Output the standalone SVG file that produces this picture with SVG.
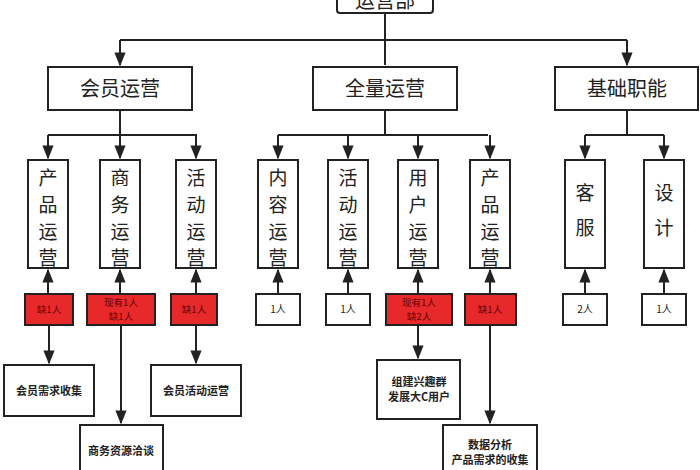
<svg xmlns="http://www.w3.org/2000/svg" width="700" height="470" viewBox="0 0 700 470">
<defs>
<marker id="a" viewBox="0 0 10 10" refX="9" refY="5" markerWidth="7" markerHeight="7" orient="auto"><path d="M0,1 L10,5 L0,9 z" fill="#222"/></marker>
<style>
.b{fill:#fff;stroke:#222;stroke-width:2}
.r{fill:#e8292b;stroke:#222;stroke-width:2}
.t{font-family:"Noto Sans CJK SC",sans-serif;fill:#222;text-anchor:middle}
.l2{font-size:20px}.l3{font-size:19px}.s{font-size:10px}.rt{font-size:9.5px;fill:#600}.m{font-size:11px;font-weight:bold}
.c{stroke:#222;stroke-width:2;fill:none}
</style>
</defs>
<rect width="700" height="470" fill="#fff"/>
<g id="connectors">
<path class="c" d="M385,13 V65"/>
<path class="c" d="M120,40 H627"/>
<path class="c" d="M120,40 V65" marker-end="url(#a)"/>
<path class="c" d="M627,40 V65" marker-end="url(#a)"/>
<path class="c" d="M120,110 V158" marker-end="url(#a)"/>
<path class="c" d="M48,135 H197"/>
<path class="c" d="M48,135 V158" marker-end="url(#a)"/>
<path class="c" d="M196,135 V158" marker-end="url(#a)"/>
<path class="c" d="M385,110 V135 M278,135 H488"/>
<path class="c" d="M278,135 V158" marker-end="url(#a)"/>
<path class="c" d="M348,135 V158" marker-end="url(#a)"/>
<path class="c" d="M418,135 V158" marker-end="url(#a)"/>
<path class="c" d="M490,135 V158" marker-end="url(#a)"/>
<path class="c" d="M627,110 V135 M585,135 H664"/>
<path class="c" d="M585,135 V158" marker-end="url(#a)"/>
<path class="c" d="M664,135 V158" marker-end="url(#a)"/>
<path class="c" d="M48,294 V270" marker-end="url(#a)"/>
<path class="c" d="M120,294 V270" marker-end="url(#a)"/>
<path class="c" d="M196,294 V270" marker-end="url(#a)"/>
<path class="c" d="M278,294 V270" marker-end="url(#a)"/>
<path class="c" d="M348,294 V270" marker-end="url(#a)"/>
<path class="c" d="M418,294 V270" marker-end="url(#a)"/>
<path class="c" d="M490,294 V270" marker-end="url(#a)"/>
<path class="c" d="M585,294 V270" marker-end="url(#a)"/>
<path class="c" d="M664,294 V270" marker-end="url(#a)"/>
<path class="c" d="M49,325 V363" marker-end="url(#a)"/>
<path class="c" d="M121,325 V423" marker-end="url(#a)"/>
<path class="c" d="M196,325 V363" marker-end="url(#a)"/>
<path class="c" d="M418,325 V358" marker-end="url(#a)"/>
<path class="c" d="M490,325 V423" marker-end="url(#a)"/>
</g>
<g id="top"><rect class="b" x="337" y="-20" width="96" height="33" rx="3"/><text class="t l2" x="385" y="8">运营部</text></g>
<g id="n1"><rect class="b" x="48" y="67" width="144" height="43"/><text class="t l2" x="120" y="96">会员运营</text></g>
<g id="n2"><rect class="b" x="313" y="67" width="144" height="43"/><text class="t l2" x="385" y="96">全量运营</text></g>
<g id="n3"><rect class="b" x="555" y="67" width="143" height="43"/><text class="t l2" x="627" y="96">基础职能</text></g>
<g id="v1"><rect class="b" x="28" y="160" width="40" height="108"/><text class="t l3" x="48" y="185">产</text><text class="t l3" x="48" y="212">品</text><text class="t l3" x="48" y="239">运</text><text class="t l3" x="48" y="265">营</text></g>
<g id="v2"><rect class="b" x="100" y="160" width="40" height="108"/><text class="t l3" x="120" y="185">商</text><text class="t l3" x="120" y="212">务</text><text class="t l3" x="120" y="239">运</text><text class="t l3" x="120" y="265">营</text></g>
<g id="v3"><rect class="b" x="176" y="160" width="40" height="108"/><text class="t l3" x="196" y="185">活</text><text class="t l3" x="196" y="212">动</text><text class="t l3" x="196" y="239">运</text><text class="t l3" x="196" y="265">营</text></g>
<g id="v4"><rect class="b" x="258" y="160" width="40" height="108"/><text class="t l3" x="278" y="185">内</text><text class="t l3" x="278" y="212">容</text><text class="t l3" x="278" y="239">运</text><text class="t l3" x="278" y="265">营</text></g>
<g id="v5"><rect class="b" x="328" y="160" width="40" height="108"/><text class="t l3" x="348" y="185">活</text><text class="t l3" x="348" y="212">动</text><text class="t l3" x="348" y="239">运</text><text class="t l3" x="348" y="265">营</text></g>
<g id="v6"><rect class="b" x="398" y="160" width="40" height="108"/><text class="t l3" x="418" y="185">用</text><text class="t l3" x="418" y="212">户</text><text class="t l3" x="418" y="239">运</text><text class="t l3" x="418" y="265">营</text></g>
<g id="v7"><rect class="b" x="470" y="160" width="40" height="108"/><text class="t l3" x="490" y="185">产</text><text class="t l3" x="490" y="212">品</text><text class="t l3" x="490" y="239">运</text><text class="t l3" x="490" y="265">营</text></g>
<g id="v8"><rect class="b" x="565" y="160" width="40" height="108"/><text class="t l3" x="585" y="200">客</text><text class="t l3" x="585" y="235">服</text></g>
<g id="v9"><rect class="b" x="644" y="160" width="40" height="108"/><text class="t l3" x="664" y="200">设</text><text class="t l3" x="664" y="235">计</text></g>
<g id="p1"><rect class="r" x="25" y="294" width="48" height="31"/><text class="t rt" x="49" y="313">缺1人</text></g>
<g id="p2"><rect class="r" x="87" y="294" width="68" height="31"/><text class="t rt" x="121" y="306">现有1人</text><text class="t rt" x="121" y="320">缺1人</text></g>
<g id="p3"><rect class="r" x="171" y="294" width="46" height="31"/><text class="t rt" x="194" y="313">缺1人</text></g>
<g id="p4"><rect class="b" x="256" y="294" width="44" height="31"/><text class="t s" x="278" y="313">1人</text></g>
<g id="p5"><rect class="b" x="326" y="294" width="44" height="31"/><text class="t s" x="348" y="313">1人</text></g>
<g id="p6"><rect class="r" x="386" y="294" width="66" height="31"/><text class="t rt" x="419" y="306">现有1人</text><text class="t rt" x="419" y="320">缺2人</text></g>
<g id="p7"><rect class="r" x="465" y="294" width="51" height="31"/><text class="t rt" x="490" y="313">缺1人</text></g>
<g id="p8"><rect class="b" x="563" y="294" width="44" height="31"/><text class="t s" x="585" y="313">2人</text></g>
<g id="p9"><rect class="b" x="642" y="294" width="44" height="31"/><text class="t s" x="664" y="313">1人</text></g>
<g id="d1"><rect class="b" x="4" y="365" width="90" height="51"/><text class="t m" x="49" y="395">会员需求收集</text></g>
<g id="d2"><rect class="b" x="80" y="425" width="83" height="50"/><text class="t m" x="121" y="455">商务资源洽谈</text></g>
<g id="d3"><rect class="b" x="151" y="365" width="90" height="51"/><text class="t m" x="196" y="395">会员活动运营</text></g>
<g id="d4"><rect class="b" x="377" y="360" width="83" height="59"/><text class="t m" x="419" y="386">组建兴趣群</text><text class="t m" x="419" y="401">发展大C用户</text></g>
<g id="d5"><rect class="b" x="443" y="425" width="94" height="50"/><text class="t m" x="490" y="449">数据分析</text><text class="t m" x="490" y="464">产品需求的收集</text></g>
</svg>
